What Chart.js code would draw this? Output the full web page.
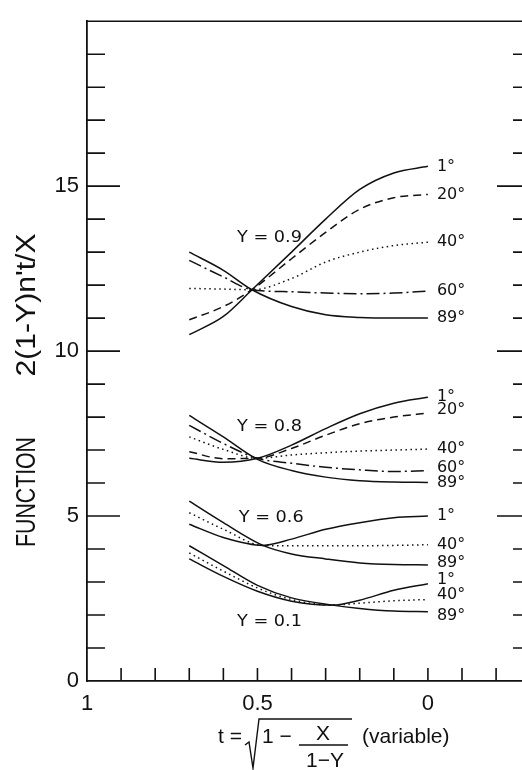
<!DOCTYPE html>
<html>
<head>
<meta charset="utf-8">
<script src="https://cdn.jsdelivr.net/npm/chart.js@4.4.0/dist/chart.umd.min.js"></script>
<style>
html, body { margin: 0; padding: 0; background: #fff; }
canvas { display: block; }
</style>
</head>
<body>
<canvas id="chart" width="522" height="770"></canvas>
<script>
// t = sqrt(1 - X/(1-Y)), axis runs from 1 (left) to 0 (right)
const tY09 = [0.70, 0.60, 0.516, 0.40, 0.30, 0.20, 0.10, 0.00];
const y09_1  = [10.5, 11.05, 11.86, 13.0, 14.0, 14.9, 15.4, 15.6];
const y09_20 = [10.95, 11.35, 11.86, 12.8, 13.6, 14.3, 14.65, 14.75];
const y09_40 = [11.9, 11.88, 11.86, 12.2, 12.7, 13.0, 13.2, 13.3];
const y09_60 = [12.75, 12.25, 11.86, 11.8, 11.76, 11.74, 11.76, 11.82];
const y09_89 = [13.0, 12.45, 11.86, 11.35, 11.1, 11.02, 11.0, 11.0];

const tY08 = [0.70, 0.60, 0.50, 0.40, 0.30, 0.20, 0.10, 0.00];
const y08_1  = [6.75, 6.63, 6.75, 7.15, 7.65, 8.1, 8.42, 8.6];
const y08_20 = [6.95, 6.74, 6.75, 7.05, 7.45, 7.8, 8.0, 8.12];
const y08_40 = [7.4, 7.02, 6.75, 6.85, 6.92, 6.97, 7.0, 7.03];
const y08_60 = [7.75, 7.2, 6.75, 6.6, 6.48, 6.4, 6.35, 6.38];
const y08_89 = [8.05, 7.4, 6.72, 6.38, 6.18, 6.07, 6.03, 6.02];

const tY06 = [0.70, 0.60, 0.484, 0.40, 0.30, 0.20, 0.10, 0.00];
const y06_1  = [4.75, 4.35, 4.11, 4.3, 4.6, 4.8, 4.95, 5.0];
const y06_40 = [5.1, 4.6, 4.11, 4.1, 4.1, 4.1, 4.11, 4.13];
const y06_89 = [5.45, 4.8, 4.11, 3.85, 3.7, 3.58, 3.53, 3.52];

const tY01 = [0.70, 0.60, 0.50, 0.40, 0.28, 0.20, 0.10, 0.00];
const y01_1  = [3.7, 3.17, 2.72, 2.42, 2.3, 2.45, 2.75, 2.95];
const y01_40 = [3.88, 3.33, 2.82, 2.47, 2.3, 2.36, 2.43, 2.47];
const y01_89 = [4.1, 3.5, 2.9, 2.52, 2.3, 2.2, 2.12, 2.1];

const xTickLabels = ['1', '0.5', '0'];
const yTickLabels = ['0', '5', '10', '15'];
const groupNames = ['Y = 0.9', 'Y = 0.8', 'Y = 0.6', 'Y = 0.1'];

const dashFor = { 1: [], 20: [8, 5], 40: [1.5, 3.5], 60: [13, 4, 2, 4], 89: [] };

function curve(group, angle, ts, vals, labelDy) {
    return {
        label: group + ' ' + angle + '\u00b0',
        angle: angle,
        labelDy: labelDy || 0,
        data: ts.map((t, i) => ({ x: t, y: vals[i] })),
        borderColor: '#111',
        borderWidth: 1.5,
        borderDash: dashFor[angle],
        pointRadius: 0,
        fill: false,
        cubicInterpolationMode: 'monotone'
    };
}

const datasets = [
    curve('0.9', 1, tY09, y09_1), curve('0.9', 20, tY09, y09_20), curve('0.9', 40, tY09, y09_40),
    curve('0.9', 60, tY09, y09_60), curve('0.9', 89, tY09, y09_89),
    curve('0.8', 1, tY08, y08_1), curve('0.8', 20, tY08, y08_20, -3), curve('0.8', 40, tY08, y08_40),
    curve('0.8', 60, tY08, y08_60, -3), curve('0.8', 89, tY08, y08_89),
    curve('0.6', 1, tY06, y06_1), curve('0.6', 40, tY06, y06_40), curve('0.6', 89, tY06, y06_89, -2),
    curve('0.1', 1, tY01, y01_1, -4), curve('0.1', 40, tY01, y01_40, -5), curve('0.1', 89, tY01, y01_89, 4)
];

// where the "Y = ..." notes sit, in data units (t, value)
const groupNoteT = [0.56, 0.56, 0.555, 0.56];
const groupNoteV = [13.44, 7.7, 4.95, 1.79];

function fitText(ctx, str, x, y, w, font, align) {
    ctx.font = font;
    const m = ctx.measureText(str).width;
    ctx.save();
    ctx.translate(x, y);
    ctx.scale(w / m, 1);
    ctx.textAlign = align || 'left';
    ctx.fillText(str, 0, 0);
    ctx.restore();
}

const decor = {
    id: 'decor',
    afterDraw(chart) {
        const { ctx, chartArea: a, scales: { x, y } } = chart;
        ctx.save();
        ctx.strokeStyle = '#111';
        ctx.fillStyle = '#111';
        ctx.lineWidth = 1.6;
        ctx.beginPath();
        ctx.moveTo(a.left, a.top);
        ctx.lineTo(a.right, a.top);
        // inward ticks
        x.ticks.forEach(tk => {
            if (tk.value >= 1) return;
            const px = x.getPixelForValue(tk.value);
            ctx.moveTo(px, a.bottom);
            ctx.lineTo(px, a.bottom - 13);
        });
        y.ticks.forEach(tk => {
            if (tk.value <= 0 || tk.value >= 20) return;
            const py = y.getPixelForValue(tk.value);
            const major = tk.value % 5 === 0;
            ctx.moveTo(a.left, py);
            ctx.lineTo(a.left + (major ? 33 : 18), py);
            ctx.moveTo(a.right, py);
            ctx.lineTo(a.right - (major ? 25 : 9), py);
        });
        ctx.stroke();

        // angle labels at the curve ends
        ctx.font = '16px "DejaVu Sans"';
        ctx.textAlign = 'left';
        ctx.textBaseline = 'middle';
        chart.data.datasets.forEach(ds => {
            const last = ds.data[ds.data.length - 1];
            const px = x.getPixelForValue(last.x) + 9;
            const py = y.getPixelForValue(last.y) + ds.labelDy;
            ctx.fillText(ds.angle + '\u00b0', px, py);
        });
        groupNames.forEach((name, i) => {
            fitText(ctx, name, x.getPixelForValue(groupNoteT[i]), y.getPixelForValue(groupNoteV[i]),
                65, '16px "DejaVu Sans"');
        });

        // x axis title: t = sqrt(1 - X/(1-Y)) (variable)
        ctx.textBaseline = 'alphabetic';
        const f = '21px "Liberation Sans"';
        ctx.font = f;
        ctx.fillText('t =', 218, 743);
        ctx.fillText('1 \u2212', 262, 743);
        ctx.textAlign = 'center';
        ctx.fillText('X', 323, 740);
        ctx.fillText('1\u2212Y', 325, 767);
        ctx.textAlign = 'left';
        ctx.fillText('(variable)', 362, 743);
        ctx.lineWidth = 1.4;
        ctx.beginPath();
        ctx.moveTo(245, 745);
        ctx.lineTo(249, 742);
        ctx.lineTo(253, 768);
        ctx.lineTo(259, 719);
        ctx.lineTo(352, 719);
        ctx.moveTo(299, 745);
        ctx.lineTo(348, 745);
        ctx.stroke();

        // y axis title, rotated
        ctx.save();
        ctx.translate(35, 0);
        ctx.rotate(-Math.PI / 2);
        fitText(ctx, 'FUNCTION', -492, 0, 110, '27px "Liberation Sans"', 'center');
        fitText(ctx, "2(1-Y)n't/X", -305, 0, 143, '27px "Liberation Sans"', 'center');
        ctx.restore();
        ctx.restore();
    }
};

new Chart(document.getElementById('chart').getContext('2d'), {
    type: 'line',
    data: { datasets: datasets },
    options: {
        responsive: false,
        animation: false,
        devicePixelRatio: 1,
        layout: { padding: { top: 10, right: 0, left: 0, bottom: 0 } },
        plugins: { legend: { display: false }, tooltip: { enabled: false } },
        scales: {
            x: {
                type: 'linear',
                reverse: true,
                min: -0.276,
                max: 1,
                afterBuildTicks: scale => {
                    const t = [];
                    for (let i = -2; i <= 10; i++) t.push({ value: i / 10 });
                    scale.ticks = t;
                },
                afterFit: scale => { scale.height = 89; },
                grid: { display: false, drawTicks: false },
                border: { display: true, color: '#111', width: 1.8 },
                ticks: {
                    autoSkip: false,
                    maxRotation: 0,
                    padding: 10,
                    color: '#111',
                    font: { family: '"Liberation Sans Narrow", "Liberation Sans"', size: 22 },
                    callback: v => {
                        const r = Math.round(v * 10) / 10;
                        return r === 1 ? xTickLabels[0] : r === 0.5 ? xTickLabels[1] : r === 0 ? xTickLabels[2] : '';
                    }
                }
            },
            y: {
                type: 'linear',
                min: 0,
                max: 20,
                afterBuildTicks: scale => {
                    const t = [];
                    for (let i = 0; i <= 20; i++) t.push({ value: i });
                    scale.ticks = t;
                },
                afterFit: scale => { scale.width = 87; },
                grid: { display: false, drawTicks: false },
                border: { display: true, color: '#111', width: 1.8 },
                ticks: {
                    autoSkip: false,
                    padding: 8,
                    color: '#111',
                    font: { family: '"Liberation Sans Narrow", "Liberation Sans"', size: 22 },
                    callback: v => (v % 5 === 0 && v < 20 ? yTickLabels[v / 5] : '')
                }
            }
        }
    },
    plugins: [decor]
});
</script>
</body>
</html>
